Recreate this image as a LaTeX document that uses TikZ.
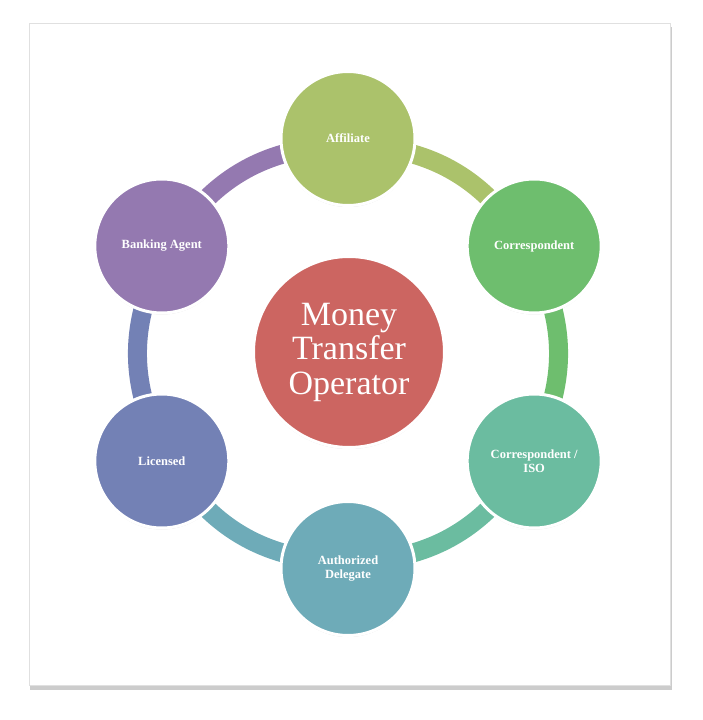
\documentclass[tikz,border=0pt]{standalone}
\usepackage{fontspec}
\setmainfont{Liberation Serif}
\usetikzlibrary{shadows}

\definecolor{affilcol}{HTML}{ABC26B}
\definecolor{corrcol}{HTML}{6EBE6E}
\definecolor{isocol}{HTML}{6BBCA0}
\definecolor{delegcol}{HTML}{6EABB8}
\definecolor{licencol}{HTML}{7381B5}
\definecolor{bankcol}{HTML}{9479B0}
\definecolor{hubcol}{HTML}{CC6561}

\begin{document}
\begin{tikzpicture}[x=1pt,y=1pt,
        member/.style={circle,draw=white,line width=3pt,minimum size=134pt,
            inner sep=0pt,text=white,align=center,
            font=\fontsize{12.5}{13.5}\selectfont\bfseries,
            drop shadow={shadow xshift=0pt,shadow yshift=-1.5pt,opacity=.25}},
        hub/.style={member,minimum size=191pt,font=\fontsize{34}{34.5}\selectfont},
        band/.style={line width=19pt}]
\useasboundingbox (-348,-366.5) rectangle (354,353.5);
\fill[white] (-348,-366.5) rectangle (354,353.5);

% card
\filldraw[fill=white,draw=black!12,
    drop shadow={shadow xshift=1.5pt,shadow yshift=-4.5pt,opacity=.4}]
    (-319,-331.5) rectangle (322,330.5);

% ring
\coordinate (r1) at (90:208);
\coordinate (r2) at (30:208);
\coordinate (r3) at (-30:208);
\coordinate (r4) at (-90:208);
\coordinate (r5) at (-150:208);
\coordinate (r6) at (150:208);

\draw[band,affilcol] (r1) to[bend left=30] (r2);
\draw[band,corrcol] (r2) to[bend left=30] (r3);
\draw[band,isocol] (r3) to[bend left=30] (r4);
\draw[band,delegcol] (r4) to[bend left=30] (r5);
\draw[band,licencol] (r5) to[bend left=30] (r6);
\draw[band,bankcol] (r6) to[bend left=30] (r1);

% circles
\node[hub,fill=hubcol] (mto) at (1,1.5) {Money\\Transfer\\Operator};
\node[member,fill=affilcol] (affil) at (90:215) {Affiliate};
\node[member,fill=corrcol] (corr) at (30:215) {Correspondent};
\node[member,fill=isocol] (iso) at (-30:215) {Correspondent /\\ISO};
\node[member,fill=delegcol] (deleg) at (-90:215) {Authorized\\Delegate};
\node[member,fill=licencol] (licen) at (-150:215) {Licensed};
\node[member,fill=bankcol] (bank) at (150:215) {Banking Agent};
\end{tikzpicture}
\end{document}
